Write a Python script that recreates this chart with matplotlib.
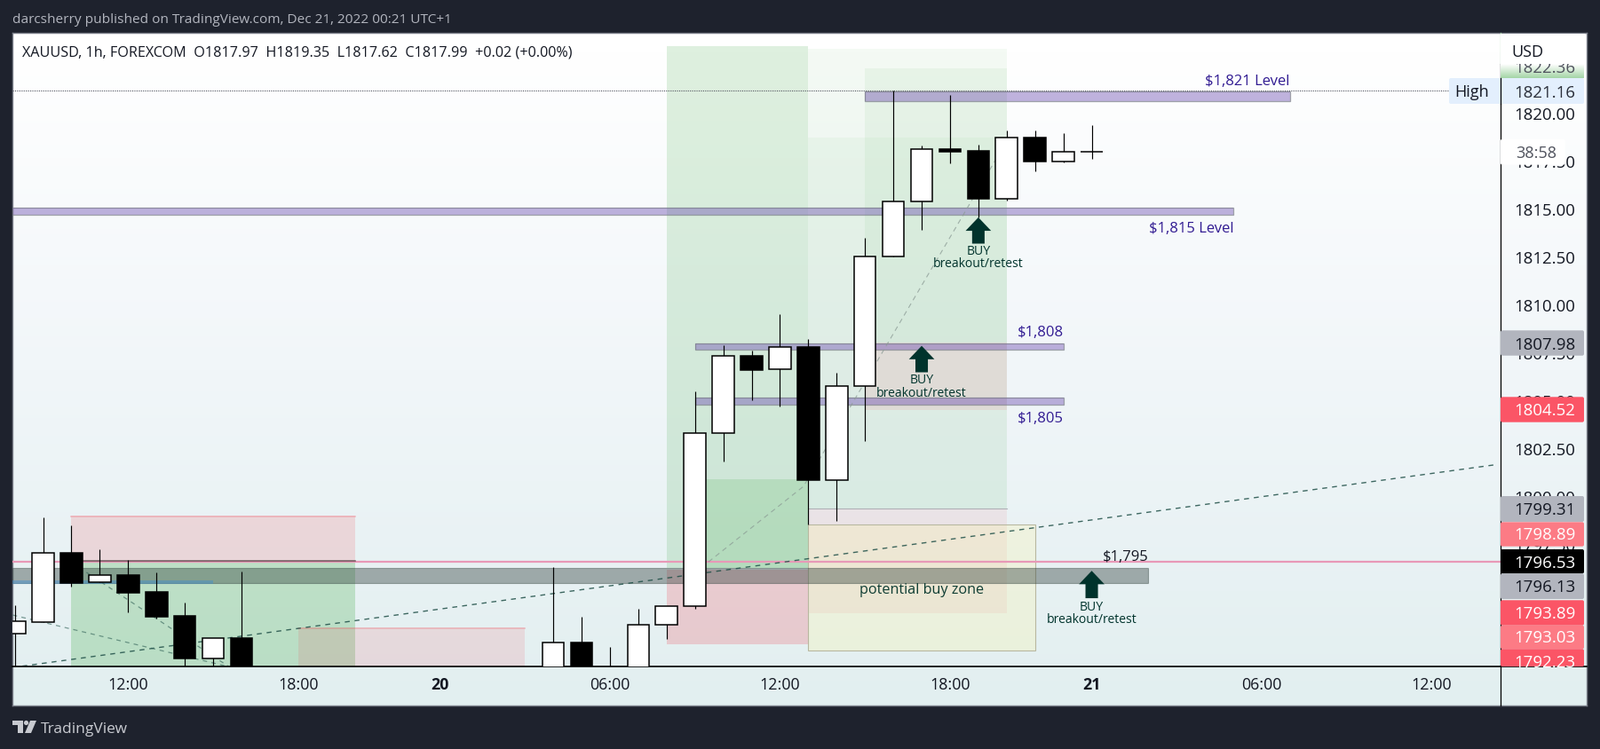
import numpy as np
import matplotlib
matplotlib.use("Agg")
import matplotlib.pyplot as plt
from matplotlib.patches import Rectangle, FancyBboxPatch, FancyArrow, Polygon, Circle

plt.rcParams["font.family"] = "Open Sans"

W, H = 1802, 845
BG = "#1e222d"
INK = "#131722"
ARROW = "#00332c"
VIOLET = "#311b92"

# candles, hourly bar index (0 = 12:00 on the 19th)
bars = [-4, -3, -2, -1, 0, 1, 2, 3, 4, 15, 16, 17, 18, 19, 20, 21, 22, 23, 24, 25, 26, 27, 28, 29, 30, 31, 32, 33, 34]
opens = [1792.81, 1793.42, 1797.00, 1795.48, 1795.86, 1794.98, 1793.73, 1791.52, 1792.57, 1790.50, 1792.32, 1790.60,
         1790.80, 1793.25, 1794.22, 1803.26, 1807.31, 1806.60, 1807.78, 1800.83, 1805.72, 1812.49, 1815.36, 1818.11,
         1818.02, 1815.53, 1818.72, 1817.46, 1817.97]
highs = [1794.27, 1798.87, 1798.46, 1797.20, 1796.65, 1796.00, 1794.42, 1792.55, 1796.05, 1796.28, 1793.68, 1792.10,
         1794.10, 1794.22, 1805.44, 1807.87, 1807.59, 1809.49, 1808.18, 1806.43, 1813.48, 1821.16, 1818.30, 1820.94,
         1818.34, 1819.09, 1819.09, 1818.95, 1819.35]
lows = [1790.50, 1793.42, 1795.27, 1795.48, 1793.93, 1793.60, 1790.50, 1790.50, 1789.50, 1790.00, 1790.00, 1790.30,
        1790.00, 1792.52, 1794.11, 1801.80, 1805.00, 1804.68, 1798.52, 1798.70, 1802.87, 1812.49, 1813.90, 1817.37,
        1814.54, 1815.44, 1816.97, 1817.42, 1817.62]
closes = [1793.44, 1797.00, 1795.46, 1795.85, 1794.95, 1793.68, 1791.52, 1792.55, 1790.00, 1792.32, 1790.50, 1790.80,
          1793.25, 1794.22, 1803.26, 1807.30, 1806.58, 1807.76, 1800.83, 1805.72, 1812.49, 1815.36, 1818.10, 1817.97,
          1815.52, 1818.70, 1817.46, 1817.96, 1817.99]

xtick_pos = [0, 6, 11, 17, 23, 29, 34, 40, 46]
xtick_labels = ["12:00", "18:00", "20", "06:00", "12:00", "18:00", "21", "06:00", "12:00"]
ytick_pos = [1820, 1817.5, 1815, 1812.5, 1810, 1807.5, 1805, 1802.5, 1800, 1797.5]

# shaded zones: x0, x1, price0, price1, colour, alpha
zones = [
    (19, 24, 1796.23, 1823.49, "#4caf50", 0.18),
    (20, 24, 1796.23, 1800.87, "#4caf50", 0.18),
    (19, 24, 1792.24, 1796.14, "#f23645", 0.20),
    (24, 31, 1799.32, 1823.35, "#4caf50", 0.06),
    (24, 31, 1799.32, 1818.72, "#4caf50", 0.05),
    (26, 31, 1808.01, 1822.33, "#4caf50", 0.07),
    (26, 31, 1804.50, 1808.01, "#f23645", 0.09),
    (24, 31, 1793.88, 1799.32, "#f23645", 0.08),
    (-2, 8, 1796.56, 1798.95, "#f23645", 0.15),
    (-2, 8, 1789.00, 1796.56, "#4caf50", 0.27),
    (6, 14, 1789.00, 1793.11, "#f23645", 0.12),
]

# level bands: x0, x1, price0, price1
xleft = -4.082
xright = 48.41
purple_bands = [
    (xleft, 39, 1814.70, 1815.04),
    (26, 41, 1820.63, 1821.13),
    (20, 33, 1807.65, 1807.95),
    (20, 33, 1804.78, 1805.12),
]

level_text = [
    (41, 1821.68, "$1,821 Level", VIOLET),
    (39, 1813.98, "$1,815 Level", VIOLET),
    (33, 1808.56, "$1,808", VIOLET),
    (33, 1804.06, "$1,805", VIOLET),
    (36, 1796.83, "$1,795", INK),
]

# buy arrows: x, tip, base, BUY label, breakout label
buy_arrows = [
    (30, 1814.54, 1813.17, 1812.78, 1812.13),
    (28, 1807.83, 1806.45, 1806.06, 1805.37),
    (34, 1796.08, 1794.65, 1794.23, 1793.57),
]

# dashed lines
rising_x, rising_y = [-4.08, 48.24], [1791.03, 1801.62]
fall1_x, fall1_y = [-4.07, 3.56], [1793.77, 1791.07]
fall2_x, fall2_y = [-1.47, 3.56], [1796.00, 1791.07]
light_x, light_y = [20.48, 23.83, 30.61], [1796.55, 1800.49, 1817.55]

# price axis tags: text, centre y px, top px, bottom px, fill, text colour
GREY = "#b2b5be"
RED = "#fb5566"
SALMON = "#fc7b85"
tags = [
    ("1807.98", 387.6, 373.3, 401.7, GREY, INK),
    ("1804.52", 462.5, 448.3, 476.7, RED, "white"),
    ("1799.31", 574.3, 560.0, 589.0, GREY, INK),
    ("1798.89", 601.7, 589.3, 616.7, SALMON, "white"),
    ("1796.53", 634.3, 620.0, 647.3, "black", "white"),
    ("1796.13", 661.3, 647.3, 676.0, GREY, INK),
    ("1793.89", 691.0, 677.3, 705.7, RED, "white"),
    ("1793.03", 717.7, 705.7, 732.3, SALMON, "white"),
    ("1792.23", 746.0, 732.3, 752.0, RED, "white"),
]

fig = plt.figure(figsize=(W / 100, H / 100), dpi=100, facecolor=BG)


def frame(left, top, right, bottom):
    return [left / W, 1 - bottom / H, (right - left) / W, (bottom - top) / H]


# panel with the background gradient
panel = fig.add_axes(frame(14, 38, 1787, 795.7), zorder=0)
ys = np.linspace(38, 796, 256)
grad = np.stack([np.interp(ys, [60, 420, 796], [255, a, b]) for a, b in [(241, 226), (246, 239), (249, 240)]], axis=1)
panel.imshow(grad[:, None, :].astype(np.uint8), aspect="auto", extent=[0, 1, 0, 1])
panel.set_xticks([])
panel.set_yticks([])
for s in panel.spines.values():
    s.set_color("#7b7f8a")
    s.set_linewidth(1.0)

# main chart
ax = fig.add_axes(frame(14, 38, 1689.5, 752.3), zorder=1)
ax.patch.set_alpha(0)
ax.set_xlim(xleft, xright)
ax.set_ylim(1791.07, 1824.18)

for x0, x1, p0, p1, col, a in zones:
    ax.add_patch(Rectangle((x0, p0), x1 - x0, p1 - p0, fc=col, alpha=a, ec="none", zorder=1))

# thin darker tops of the red zones
ax.plot([-2, 8], [1798.93, 1798.93], color="#f23645", alpha=0.2, lw=1.4, zorder=1.2)
ax.plot([6, 14], [1793.09, 1793.09], color="#f23645", alpha=0.2, lw=1.4, zorder=1.2)
ax.plot([24, 31], [1799.32, 1799.32], color="#787b86", alpha=0.5, lw=0.8, zorder=1.2)

# potential buy zone
ax.add_patch(Rectangle((24, 1791.91), 8, 6.58, fc="#fff59d", alpha=0.24, ec="none", zorder=1.5))
ax.add_patch(Rectangle((24, 1791.91), 8, 6.58, fc="none", ec="#b8b8a0", lw=0.8, zorder=1.5))
ax.text(28, 1795.1, "potential buy zone", ha="center", va="center", fontsize=11.7, color="#0f3d33", zorder=5)

# grey 1795 band, small blue band
ax.add_patch(Rectangle((xleft, 1795.46), 36 - xleft, 0.77, fc="#2f3f3a", alpha=0.4, ec="#2f3f3a", lw=0.8, zorder=2))
ax.add_patch(Rectangle((xleft, 1795.41), 3 - xleft, 0.16, fc="#3f8fd0", alpha=0.45, ec="none", zorder=2))

for x0, x1, p0, p1 in purple_bands:
    ax.add_patch(Rectangle((x0, p0), x1 - x0, p1 - p0, fc="#6a4ab0", alpha=0.42, ec="none", zorder=2))
    ax.add_patch(Rectangle((x0, p0), x1 - x0, p1 - p0, fc="none", ec="#787b86", lw=0.9, alpha=0.7, zorder=2))

ax.plot([xleft, xright], [1796.56, 1796.56], color="#e899b7", lw=1.6, zorder=2.2)
ax.plot([-2, 8], [1796.62, 1796.62], color="#3a3030", lw=1.1, alpha=0.7, zorder=2.3)

# High dotted line
ax.plot([xleft, 46.6], [1821.16, 1821.16], color="#50535e", lw=0.8, ls=(0, (1, 1.2)), zorder=2.4)

ax.plot(rising_x, rising_y, color="#1f4f47", lw=1.0, ls=(0, (4, 4)), alpha=0.85, zorder=2.5)
ax.plot(fall1_x, fall1_y, color="#2f5f55", lw=0.9, ls=(0, (4, 4)), alpha=0.6, zorder=2.5)
ax.plot(fall2_x, fall2_y, color="#2f5f55", lw=0.9, ls=(0, (4, 4)), alpha=0.6, zorder=2.5)
ax.plot(light_x, light_y, color="#8a9a94", lw=0.8, ls=(0, (5, 4)), alpha=0.75, zorder=2.5)

# candles
o = np.array(opens)
c = np.array(closes)
colors = ["white" if cl >= op else "black" for op, cl in zip(opens, closes)]
ax.vlines(bars, lows, highs, color="black", lw=0.85, zorder=3)
ax.bar(bars, np.abs(c - o), bottom=np.minimum(o, c), width=0.77, color=colors, edgecolor="black", linewidth=1.1, zorder=4)

for x, tip, base, buy_y, brk_y in buy_arrows:
    ax.add_patch(FancyArrow(x, base, 0, tip - base, width=0.44, head_width=0.9, head_length=0.7,
                            length_includes_head=True, fc=ARROW, ec="none", zorder=5))
    ax.text(x, buy_y, "BUY", ha="center", va="center", fontsize=10.1, color=ARROW, zorder=6)
    ax.text(x, brk_y, "breakout/retest", ha="center", va="center", fontsize=10.1, color=ARROW, zorder=6)

for x, y, s, col in level_text:
    ax.text(x, y, s, ha="right", va="center", fontsize=12, color=col, zorder=6)

# axes
ax.set_xticks(xtick_pos)
ax.set_xticklabels(xtick_labels, fontsize=12.8, color=INK)
for lab, txt in zip(ax.get_xticklabels(), xtick_labels):
    if len(txt) == 2:
        lab.set_fontweight("bold")
ax.yaxis.tick_right()
ax.set_yticks(ytick_pos)
ax.set_yticklabels(["%.2f" % v for v in ytick_pos], fontsize=13.4, color=INK)
ax.tick_params(axis="y", length=0, pad=11)
ax.tick_params(axis="x", length=0, pad=8)
for name in ["top", "left"]:
    ax.spines[name].set_visible(False)
ax.spines["bottom"].set_linewidth(1.2)
ax.spines["right"].set_visible(False)

# overlay in figure pixels for the price tags and header texts
ov = fig.add_axes([0, 0, 1, 1], zorder=2)
ov.set_xlim(0, W)
ov.set_ylim(H, 0)
ov.axis("off")
ov.patch.set_alpha(0)


def tag(x0, x1, y0, y1, fill, z=3):
    ov.add_patch(FancyBboxPatch((x0, y0), x1 - x0, y1 - y0, boxstyle="round,pad=0,rounding_size=2", fc=fill, ec="none", zorder=z))


ov.plot([1689.5, 1787], [752.3, 752.3], color="black", lw=1.2, zorder=2)
ov.plot([1689.5, 1689.5], [73, 795.7], color="black", lw=0.9, zorder=2)
ov.plot([1689.5, 1689.5], [38, 73], color="#a5d6a7", lw=0.9, zorder=2)

# top axis tag, partly hidden
green_fade = np.linspace(1, 0, 32)[:, None, None] * np.array([[[90, 41, 88]]]) + np.array([[[165, 214, 167]]])
ov.imshow(green_fade.astype(np.uint8), extent=[1690, 1784, 89, 73], aspect="auto", zorder=3)
ov.set_xlim(0, W)
ov.set_ylim(H, 0)
ov.text(1705.5, 76.5, "1822.36", ha="left", va="center", fontsize=13.4, color="#50535e", zorder=3.5)
ov.add_patch(Rectangle((1690, 39), 95, 34, fc="white", ec="none", zorder=4))
ov.text(1702.7, 59, "USD", ha="left", va="center", fontsize=13, color=INK, zorder=5)

tag(1632, 1784, 89, 118, "#e3effd", z=3.6)
ov.plot([1689.5, 1689.5], [89, 118], color="black", lw=0.9, zorder=3.7)
ov.text(1658, 104, "High", ha="center", va="center", fontsize=13, color=INK, zorder=5)
ov.text(1705.5, 105, "1821.16", ha="left", va="center", fontsize=13.4, color="#2a2e39", zorder=5)

tag(1690, 1762.7, 157.7, 186.7, "white", z=3.6)
ov.text(1729.7, 173.3, "38:58", ha="center", va="center", fontsize=13, color="#50535e", zorder=5)

for s, yc, y0, y1, fill, tc in tags:
    tag(1690, 1784, y0, y1, fill)
    t = ov.text(1705.5, yc + 1, s, ha="left", va="center", fontsize=13.4, color=tc, zorder=5)
    if s == "1792.23":
        t.set_clip_path(Rectangle((1690, 732), 94, 20, transform=ov.transData))

# header, legend, footer
ov.text(14, 22.5, "darcsherry published on TradingView.com, Dec 21, 2022 00:21 UTC+1", ha="left", va="center",
        fontsize=11.1, color="#b2b5be", zorder=5)
ov.text(25, 60, "XAUUSD, 1h, FOREXCOM  O1817.97  H1819.35  L1817.62  C1817.99  +0.02 (+0.00%)", ha="left", va="center",
        fontsize=11.6, color=INK, zorder=5)
ov.text(46, 822, "TradingView", ha="left", va="center", fontsize=12.5, color="#c8cad0", zorder=5)
ov.add_patch(Polygon([(14, 813), (26, 813), (26, 827), (20, 827), (20, 818), (14, 818)], fc="#c8cad0", ec="none"))
ov.add_patch(Circle((29.5, 815.5), 2.6, fc="#c8cad0", ec="none"))
ov.add_patch(Polygon([(34, 813), (41, 813), (35, 827), (28, 827)], fc="#c8cad0", ec="none"))

fig.savefig("out.png", dpi=100, facecolor=BG)
